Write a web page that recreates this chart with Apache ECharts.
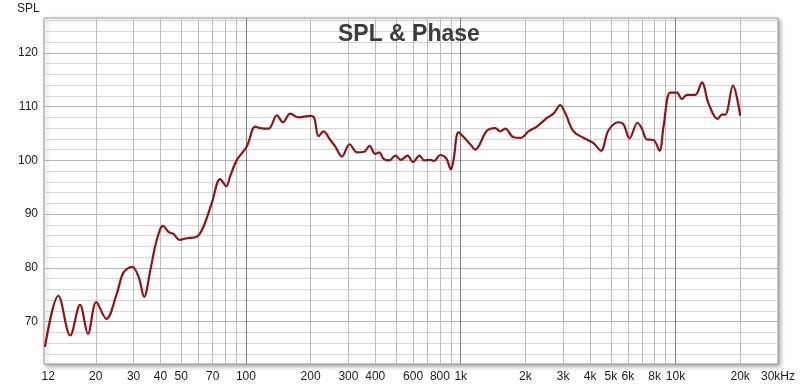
<!DOCTYPE html>
<html>
<head>
<meta charset="utf-8">
<script src="https://cdn.jsdelivr.net/npm/echarts@6/dist/echarts.min.js"></script>
<style>
html,body{margin:0;padding:0;background:#fff;}
#c{width:800px;height:388px;}
</style>
</head>
<body>
<div id="c"></div>
<script>
// Frequency (Hz) and SPL (dB)
const freqs = [11.6, 13.4, 15.2, 16.9, 18.4, 20.1, 22.4, 25.1, 26.9, 29.5, 31.6, 33.6, 35.9, 37.8, 39.9, 41.1, 43.6, 46.0, 49.1, 53.1, 59.2, 63.5, 69.4, 75.9, 81.0, 84.5, 90.8, 101, 110.5, 116.6, 127.4, 139.4, 148.7, 160.8, 175.8, 199.3, 208, 217.8, 229.8, 246.9, 260.4, 279.9, 303.6, 328.7, 355.4, 376.2, 399.9, 417.6, 437.2, 466.3, 495.6, 526.7, 565.4, 599, 643, 676, 721, 752.6, 802.7, 855.9, 900.4, 925.8, 976.8, 1040, 1107, 1168, 1324, 1447, 1527, 1612, 1762, 1907, 2068, 2263, 2520, 2704, 2905, 3065, 3351, 3730, 4152, 4495, 4876, 5428, 5727, 6107, 6655, 6974, 7358, 7900, 8425, 8794, 9447, 10150, 10710, 11300, 12350, 13270, 14240, 15690, 16440, 17040, 18500, 20010];
const spl = [65.3, 74.8, 67.4, 73.1, 67.7, 73.6, 70.5, 75.3, 79.1, 80.2, 78.4, 74.6, 79.6, 84.0, 87.2, 87.8, 86.7, 86.3, 85.2, 85.5, 85.8, 87.7, 92.1, 96.5, 95.2, 97.1, 100.1, 102.6, 106.3, 106.0, 105.9, 108.4, 107.1, 108.7, 108.0, 108.3, 107.9, 104.5, 105.4, 103.8, 102.6, 100.7, 103.0, 101.5, 101.6, 102.7, 101.2, 101.5, 100.3, 100.0, 100.9, 100.1, 100.9, 99.7, 100.9, 100.0, 100.1, 99.9, 101.0, 100.4, 98.3, 100.1, 105.2, 104.2, 103.0, 102.0, 105.5, 106.0, 105.4, 105.9, 104.3, 104.2, 105.4, 106.3, 107.9, 108.7, 110.3, 108.8, 105.4, 104.2, 103.2, 101.8, 105.6, 107.1, 106.7, 104.1, 107.0, 105.9, 103.9, 103.8, 101.8, 106.3, 112.6, 112.6, 111.4, 112.2, 112.2, 114.5, 110.6, 107.7, 108.5, 108.5, 113.9, 108.3];

// Axis ticks and grid
const xTickValues = [12, 20, 30, 40, 50, 70, 100, 200, 300, 400, 600, 800, 1000, 2000, 3000, 4000, 5000, 6000, 8000, 10000, 20000, 30000];
const xTickLabels = ['12', '20', '30', '40', '50', '70', '100', '200', '300', '400', '600', '800', '1k', '2k', '3k', '4k', '5k', '6k', '8k', '10k', '20k', '30kHz'];
const yTickValues = [70, 80, 90, 100, 110, 120];
const vGridMinor = [20, 30, 40, 50, 60, 70, 80, 90, 200, 300, 400, 500, 600, 700, 800, 900, 2000, 3000, 4000, 5000, 6000, 7000, 8000, 9000, 20000];
const vGridDecade = [100, 1000, 10000];
const hGridMinor = [64, 66, 68, 72, 74, 76, 78, 82, 84, 86, 88, 92, 94, 96, 98, 102, 104, 106, 108, 112, 114, 116, 118, 122, 124, 126];
const hGridMajor = [70, 80, 90, 100, 110, 120];

const chart = echarts.init(document.getElementById('c'), null, {renderer: 'canvas'});

function ml(list, key, color) {
  return {
    silent: true,
    symbol: ['none', 'none'],
    label: {show: false},
    animation: false,
    lineStyle: {color: color, width: 1, type: 'solid'},
    emphasis: {disabled: true},
    data: list.map(v => ({[key]: v}))
  };
}

const labelMap = {};
xTickValues.forEach((v, i) => { labelMap[v] = xTickLabels[i]; });

chart.setOption({
  animation: false,
  backgroundColor: '#ffffff',
  title: [
    {text: 'SPL & Phase', left: 338, top: 23, padding: 0,
     textStyle: {fontFamily: 'Liberation Sans, Arial', fontSize: 23, fontWeight: 'bold', color: '#3c3c3c'}},
    {text: 'SPL', left: 17, top: 3, padding: 0,
     textStyle: {fontFamily: 'Liberation Sans, Arial', fontSize: 12, fontWeight: 'normal', color: '#222'}}
  ],
  grid: {
    left: 44, top: 18, width: 734, height: 346,
    show: true, backgroundColor: '#ffffff',
    borderColor: '#9a9a9a', borderWidth: 1,
    shadowColor: 'rgba(0,0,0,0.35)', shadowBlur: 4, shadowOffsetX: 2, shadowOffsetY: 2
  },
  xAxis: {
    type: 'log', logBase: 10, min: 11.48, max: 30000,
    axisLine: {show: false}, axisTick: {show: false},
    splitLine: {show: false}, minorSplitLine: {show: false},
    axisLabel: {
      customValues: xTickValues, margin: 7, showMinLabel: true, showMaxLabel: true, hideOverlap: false,
      fontFamily: 'Liberation Sans, Arial', fontSize: 12, color: '#1a1a1a',
      formatter: v => labelMap[Math.round(v)] !== undefined ? labelMap[Math.round(v)] : ''
    }
  },
  yAxis: {
    type: 'value', min: 62.1, max: 126.5,
    axisLine: {show: false}, axisTick: {show: false}, splitLine: {show: false},
    axisLabel: {
      customValues: yTickValues, margin: 6,
      fontFamily: 'Liberation Sans, Arial', fontSize: 12, color: '#1a1a1a'
    }
  },
  series: [
    {type: 'line', data: [], z: 1, silent: true, markLine: ml(hGridMinor, 'yAxis', '#d6d6d6')},
    {type: 'line', data: [], z: 1, silent: true, markLine: ml(hGridMajor, 'yAxis', '#b4b4b4')},
    {type: 'line', data: [], z: 1, silent: true, markLine: ml(vGridMinor, 'xAxis', '#bdbdbd')},
    {type: 'line', data: [], z: 1, silent: true, markLine: ml(vGridDecade, 'xAxis', '#808080')},
    {
      type: 'line', z: 5, silent: true,
      data: freqs.map((f, i) => [f, spl[i]]),
      smooth: 0.35, showSymbol: false, symbol: 'none',
      lineStyle: {color: '#8e1515', width: 2.2}
    }
  ]
});
</script>
